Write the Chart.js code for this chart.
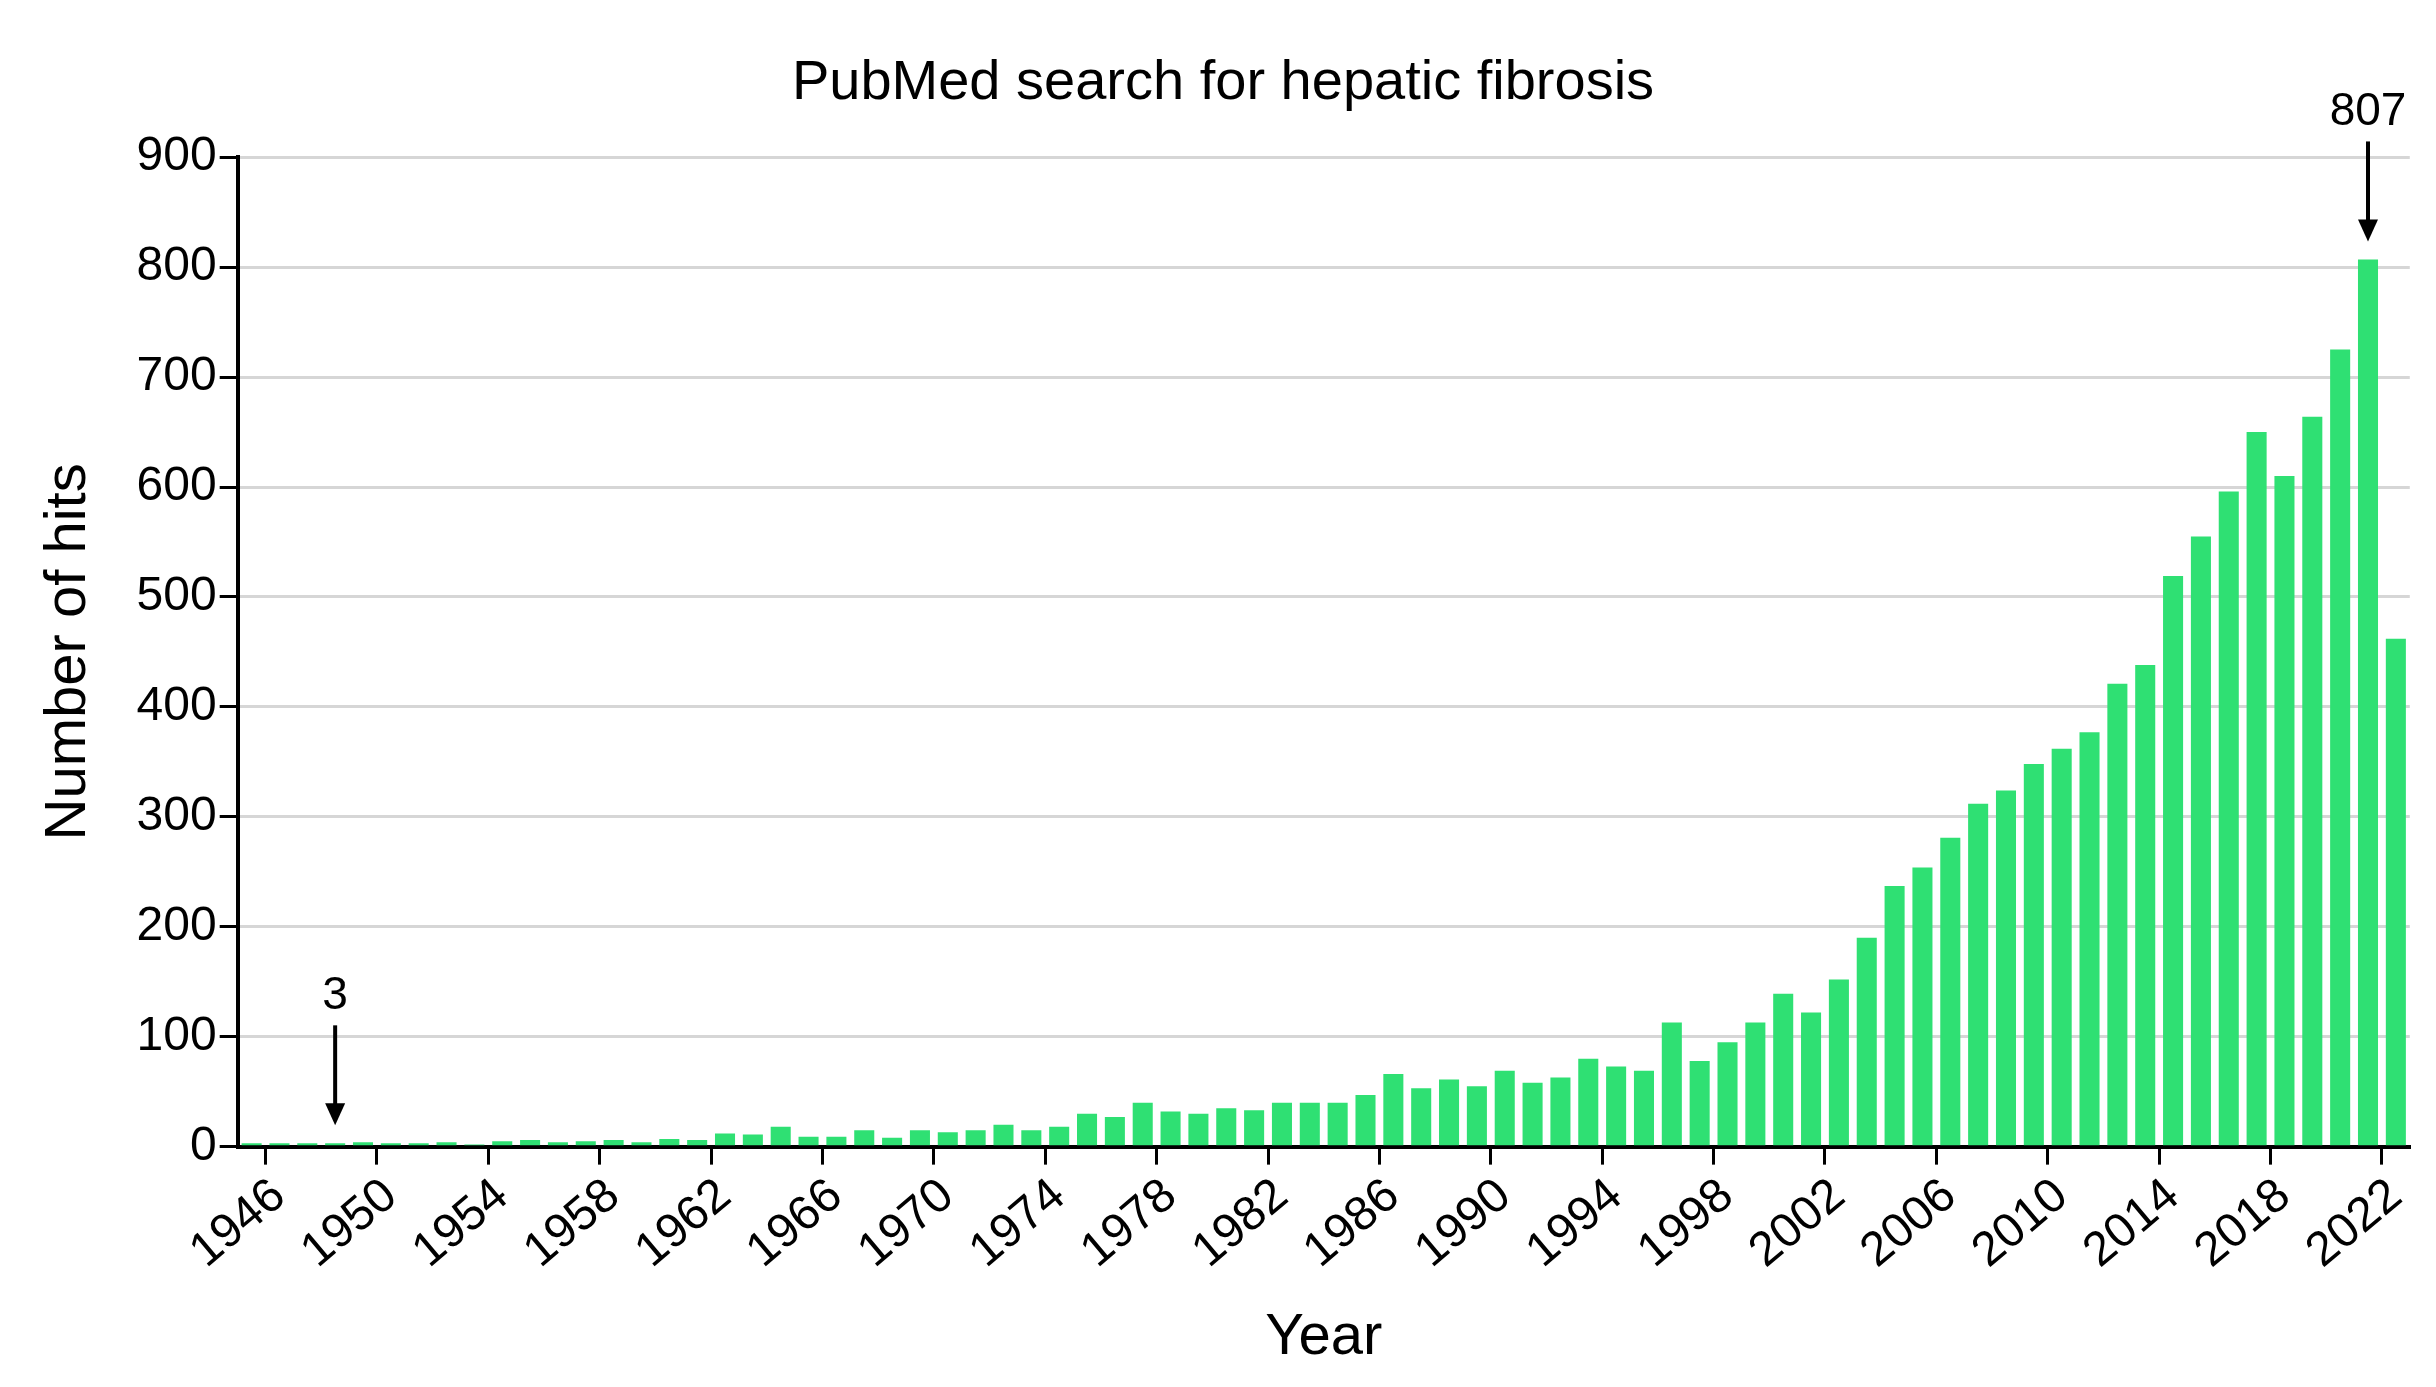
<!DOCTYPE html>
<html>
<head>
<meta charset="utf-8">
<script src="https://cdn.jsdelivr.net/npm/chart.js@4"></script>
<style>
  html, body { margin: 0; padding: 0; background: #fff; }
  #wrap { width: 2436px; height: 1387px; }
</style>
</head>
<body>
<div id="wrap"><canvas id="hits"></canvas></div>
<script>
var years = [];
for (var y = 1945; y <= 2022; y++) years.push(String(y));

var hits = [3,3,3,3,4,3,3,4,2,5,6,4,5,6,4,7,6,12,11,18,
            9,9,15,8,15,13,15,20,15,18,30,27,40,32,30,35,33,40,40,40,
            47,66,53,61,55,69,58,63,80,73,69,113,78,95,113,139,122,152,190,237,
            254,281,312,324,348,362,377,421,438,519,555,596,650,610,664,725,807,462];

var notes = [
    { year: '1948', value: 3, text: '3' },
    { year: '2021', value: 807, text: '807' }
];

var font = 'Liberation Sans, Arial, sans-serif';

var arrowPlugin = {
    id: 'arrows',
    afterDatasetsDraw: function (chart) {
        var ctx = chart.ctx, xs = chart.scales.x, ys = chart.scales.y;
        ctx.save();
        ctx.fillStyle = '#000';
        ctx.strokeStyle = '#000';
        ctx.lineWidth = 4;
        notes.forEach(function (n) {
            var x = xs.getPixelForValue(n.year);
            var tip = ys.getPixelForValue(n.value) - 18;
            var top = tip - 100;
            ctx.beginPath();
            ctx.moveTo(x, top);
            ctx.lineTo(x, tip - 16);
            ctx.stroke();
            ctx.beginPath();
            ctx.moveTo(x - 10, tip - 22);
            ctx.lineTo(x + 10, tip - 22);
            ctx.lineTo(x, tip);
            ctx.closePath();
            ctx.fill();
            ctx.font = '46px ' + font;
            ctx.textAlign = 'center';
            ctx.textBaseline = 'bottom';
            ctx.fillText(n.text, x, top - 6);
        });
        ctx.restore();
    }
};

new Chart(document.getElementById('hits'), {
    type: 'bar',
    data: {
        labels: years,
        datasets: [{
            data: hits,
            backgroundColor: '#2fe073',
            barPercentage: 0.72,
            categoryPercentage: 1
        }]
    },
    options: {
        animation: false,
        responsive: true,
        maintainAspectRatio: false,
        layout: { padding: { left: 30, right: 20, top: 10, bottom: 10 } },
        plugins: {
            legend: { display: false },
            tooltip: { enabled: false },
            title: {
                display: true,
                text: 'PubMed search for hepatic fibrosis',
                color: '#000',
                font: { family: font, size: 56, weight: 'normal' },
                padding: { top: 40, bottom: 40 }
            }
        },
        scales: {
            x: {
                border: { color: '#000', width: 4 },
                grid: {
                    drawOnChartArea: false,
                    tickLength: 18,
                    lineWidth: 3,
                    color: function (c) {
                        return (c.index - 1) % 4 === 0 ? '#000' : 'rgba(0,0,0,0)';
                    }
                },
                ticks: {
                    autoSkip: false,
                    maxRotation: 40,
                    minRotation: 40,
                    color: '#000',
                    font: { family: font, size: 48 },
                    callback: function (v, i) {
                        return (i - 1) % 4 === 0 ? years[i] : '';
                    }
                },
                title: {
                    display: true,
                    text: 'Year',
                    color: '#000',
                    font: { family: font, size: 58 },
                    padding: { top: 20 }
                }
            },
            y: {
                min: 0,
                max: 900,
                border: { color: '#000', width: 4 },
                grid: {
                    tickLength: 18,
                    lineWidth: function (c) { return c.tick && c.tick.value % 100 === 0 ? 3 : 2; },
                    color: function (c) {
                        return c.tick && c.tick.value % 100 === 0 ? '#d6d6d6' : '#efefef';
                    },
                    tickColor: function (c) {
                        return c.tick && c.tick.value % 100 === 0 ? '#000' : 'rgba(0,0,0,0)';
                    }
                },
                ticks: {
                    stepSize: 50,
                    color: '#000',
                    font: { family: font, size: 48 },
                    callback: function (v) { return v % 100 === 0 ? v : ''; }
                },
                title: {
                    display: true,
                    text: 'Number of hits',
                    color: '#000',
                    font: { family: font, size: 58 },
                    padding: { bottom: 30 }
                }
            }
        }
    },
    plugins: [arrowPlugin]
});
</script>
</body>
</html>
